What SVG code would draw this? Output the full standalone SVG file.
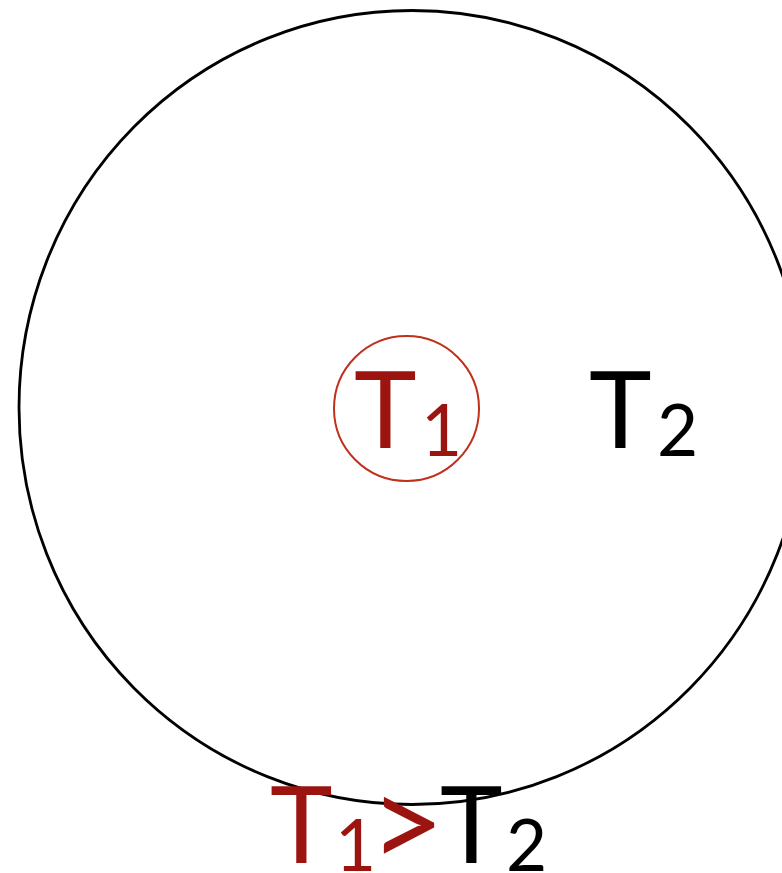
<svg xmlns="http://www.w3.org/2000/svg" width="782" height="873" viewBox="0 0 782 873">
<style>
.lbl{font-family:Lato,"Open Sans","DejaVu Sans",sans-serif;}
.big{font-size:106px;}
.sub{font-size:71px;}
.red{fill:#9b1410;}
.blk{fill:#000;}
</style>
<rect width="782" height="873" fill="#fff"/>
<g id="outer">
<ellipse cx="412" cy="407.5" rx="393" ry="397" fill="none" stroke="#000" stroke-width="2.8"/>
</g>
<g id="inner">
<circle cx="406.5" cy="408.5" r="72.5" fill="none" stroke="#c0301c" stroke-width="2"/>
<text class="lbl big red" x="354" y="448">T</text>
<text class="lbl sub red" x="441.5" y="456" text-anchor="middle">1</text>
</g>
<g id="t2">
<text class="lbl big blk" x="589" y="448">T</text>
<text class="lbl sub blk" x="657" y="456">2</text>
</g>
<g id="relation">
<text class="lbl big red" x="270" y="863">T</text>
<text class="lbl sub red" x="355.5" y="871" text-anchor="middle">1</text>
<text class="lbl red" style="font-size:130px" x="407" y="869" text-anchor="middle">&gt;</text>
<text class="lbl big blk" x="440" y="863">T</text>
<text class="lbl sub blk" x="506" y="871">2</text>
</g>
<g id="connectors"></g>
</svg>
